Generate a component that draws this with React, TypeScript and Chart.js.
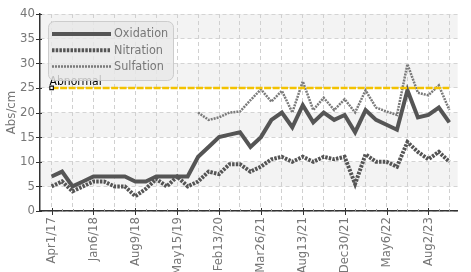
import React, { useEffect, useRef } from "react";
import { Chart, registerables } from "chart.js";

Chart.register(...registerables);

// Category labels (only every 4th sample is labelled in the source chart)
const dates = [
  "Apr1/17", "", "", "", "Jan6/18", "", "", "", "Aug9/18", "", "", "",
  "May15/19", "", "", "", "Feb13/20", "", "", "", "Mar26/21", "", "", "",
  "Aug13/21", "", "", "", "Dec30/21", "", "", "", "May6/22", "", "", "",
  "Aug2/23", "", "",
];

const oxidation = [
  7, 8, 5, 6, 7, 7, 7, 7, 6, 6,
  7, 7, 7, 7, 11, 13, 15, 15.5, 16, 13,
  15, 18.5, 20, 17, 21.5, 18, 20, 18.5, 19.5, 16,
  20.5, 18.5, 17.5, 16.5, 24.5, 19, 19.5, 21, 18,
];

const nitration = [
  5, 6, 4, 5, 6, 6, 5, 5, 3, 4.5,
  6.5, 5, 7, 5, 6, 8, 7.5, 9.5, 9.5, 8,
  9, 10.5, 11, 10, 11, 10, 11, 10.5, 11, 5.5,
  11.5, 10, 10, 9, 14, 12, 10.5, 12, 10,
];

const sulfation: (number | null)[] = [
  null, null, null, null, null, null, null, null, null, null,
  null, null, null, null, 20, 18.5, 19, 20, 20.2, 22.5,
  24.7, 22.2, 24.4, 20, 26.3, 20.5, 23, 20.5, 22.7, 20,
  24.5, 21, 20.2, 19.5, 29.8, 24, 23.5, 25.5, 20.5,
];

const ABNORMAL = 25;
const Y_MIN = 0;
const Y_MAX = 40;
const Y_STEP = 5;

const FONT = "'Liberation Sans Narrow', 'DejaVu Sans Condensed', 'Roboto', sans-serif";

const toPoints = (arr: (number | null)[]) => arr.map((v, i) => ({ x: i, y: v }));

const bandsPlugin = {
  id: "bands",
  beforeDraw(chart: any) {
    const { ctx, chartArea, scales } = chart;
    const y = scales.y;
    ctx.save();
    ctx.fillStyle = "#f3f3f3";
    for (let v = Y_MIN; v < Y_MAX; v += Y_STEP) {
      if ((v / Y_STEP) % 2 === 1) {
        const top = y.getPixelForValue(v + Y_STEP);
        const bot = y.getPixelForValue(v);
        ctx.fillRect(chartArea.left, top, chartArea.right - chartArea.left, bot - top);
      }
    }
    ctx.restore();
  },
};

const ticksPlugin = {
  id: "customTicks",
  afterDraw(chart: any) {
    const { ctx, chartArea, scales } = chart;
    const x = scales.x;
    const y = scales.y;
    ctx.save();
    ctx.lineWidth = 1;
    for (let i = 0; i < dates.length; i++) {
      const px = Math.round(x.getPixelForValue(i)) + 0.5;
      const major = i % 4 === 0;
      ctx.strokeStyle = major ? "#333" : "#999";
      ctx.beginPath();
      ctx.moveTo(px, chartArea.bottom - (major ? 3 : 2));
      ctx.lineTo(px, chartArea.bottom + (major ? 4 : 1));
      ctx.stroke();
    }
    ctx.strokeStyle = "#333";
    for (let v = Y_MIN; v <= Y_MAX; v += Y_STEP) {
      const py = Math.round(y.getPixelForValue(v)) + 0.5;
      ctx.beginPath();
      ctx.moveTo(chartArea.left - 4, py);
      ctx.lineTo(chartArea.left + 2, py);
      ctx.stroke();
    }
    ctx.restore();
  },
};

const abnormalLabelPlugin = {
  id: "abnormalLabel",
  afterDatasetsDraw(chart: any) {
    const { ctx, scales } = chart;
    const px = scales.x.getPixelForValue(0);
    const py = scales.y.getPixelForValue(ABNORMAL);
    ctx.save();
    ctx.fillStyle = "#000";
    ctx.font = `12px ${FONT}`;
    ctx.textBaseline = "alphabetic";
    ctx.textAlign = "left";
    ctx.fillText("Abnormal", px - 2, py - 3);
    ctx.restore();
  },
};

const legendPlugin = {
  id: "boxLegend",
  afterDraw(chart: any) {
    const { ctx, chartArea } = chart;
    const lx = chartArea.left + 8;
    const ly = chartArea.top + 7;
    const lw = 125;
    const lh = 59;
    ctx.save();
    ctx.beginPath();
    ctx.roundRect(lx + 0.5, ly + 0.5, lw, lh, 6);
    ctx.fillStyle = "rgba(232,232,232,0.82)";
    ctx.fill();
    ctx.strokeStyle = "rgba(200,200,200,0.9)";
    ctx.lineWidth = 1;
    ctx.stroke();
    const items = chart.data.datasets.slice(0, 3);
    items.forEach((ds: any, i: number) => {
      const yy = ly + 13 + i * 16.3;
      ctx.beginPath();
      ctx.setLineDash(ds.borderDash || []);
      ctx.lineWidth = ds.borderWidth;
      ctx.strokeStyle = ds.borderColor;
      ctx.moveTo(lx + 4, yy);
      ctx.lineTo(lx + 63, yy);
      ctx.stroke();
      ctx.setLineDash([]);
      ctx.fillStyle = "#777";
      ctx.font = `12.5px ${FONT}`;
      ctx.textBaseline = "middle";
      ctx.textAlign = "left";
      ctx.fillText(ds.label, lx + 66, yy);
    });
    ctx.restore();
  },
};

export default function App() {
  const ref = useRef<HTMLCanvasElement | null>(null);

  useEffect(() => {
    if (!ref.current) return;
    const chart = new Chart(ref.current, {
      type: "line",
      data: {
        datasets: [
          {
            label: "Oxidation",
            data: toPoints(oxidation),
            borderColor: "#555555",
            borderWidth: 4,
            pointRadius: 0,
            tension: 0,
          },
          {
            label: "Nitration",
            data: toPoints(nitration),
            borderColor: "#555555",
            borderWidth: 4,
            borderDash: [2.5, 1.2],
            pointRadius: 0,
            tension: 0,
          },
          {
            label: "Sulfation",
            data: toPoints(sulfation),
            borderColor: "#7a7a7a",
            borderWidth: 2.5,
            borderDash: [2, 1],
            pointRadius: 0,
            tension: 0,
            spanGaps: false,
          },
          {
            label: "Abnormal",
            data: [
              { x: 0, y: ABNORMAL },
              { x: dates.length - 1, y: ABNORMAL },
            ],
            borderColor: "#f3c200",
            borderWidth: 2.5,
            borderDash: [7, 1.5],
            pointStyle: "rect",
            pointRadius: (c: any) => (c.dataIndex === 0 ? 2.5 : 0),
            pointBackgroundColor: "#ffffff",
            pointBorderColor: "#111111",
            pointBorderWidth: 1.2,
            order: -1,
          } as any,
        ],
      },
      options: {
        animation: false,
        responsive: false,
        events: [],
        layout: { padding: { top: 14, right: 0, left: 0, bottom: 0 } },
        plugins: {
          legend: { display: false },
          tooltip: { enabled: false },
          title: { display: false },
        },
        scales: {
          x: {
            type: "linear",
            min: -1.11,
            max: 38.8,
            afterBuildTicks: (scale: any) => {
              scale.ticks = dates.map((_, i) => ({ value: i }));
            },
            afterFit: (scale: any) => {
              scale.height = 61;
            },
            border: { display: true, color: "#333", width: 1.5, dash: [4, 3] },
            grid: {
              drawTicks: false,
              color: (c: any) =>
                c.tick && c.tick.value % 2 === 0 ? "#d0d0d0" : "rgba(0,0,0,0)",
              lineWidth: 1,
            },
            ticks: {
              autoSkip: false,
              minRotation: 90,
              maxRotation: 90,
              padding: 6,
              color: "#777",
              font: { family: FONT, size: 13 },
              callback: (v: any) => (Number.isInteger(v) ? dates[v] ?? "" : ""),
            },
          },
          y: {
            min: Y_MIN,
            max: Y_MAX,
            afterFit: (scale: any) => {
              scale.width = 40;
            },
            border: { display: true, color: "#333", width: 1.5, dash: [4, 3] },
            grid: {
              drawTicks: false,
              color: "#d4d4d4",
              lineWidth: 1,
            },
            ticks: {
              stepSize: Y_STEP,
              padding: 5,
              color: "#777",
              font: { family: FONT, size: 13 },
            },
            title: {
              display: true,
              text: "Abs/cm",
              color: "#777",
              font: { family: FONT, size: 13 },
              padding: { top: 4, bottom: 0 },
            },
          },
        },
      },
      plugins: [bandsPlugin, abnormalLabelPlugin, ticksPlugin, legendPlugin],
    });
    return () => chart.destroy();
  }, []);

  return (
    <div style={{ position: "absolute", left: 0, top: 0, width: 471, height: 272, background: "#fff" }}>
      <canvas ref={ref} width={471} height={272} style={{ display: "block" }} />
    </div>
  );
}
